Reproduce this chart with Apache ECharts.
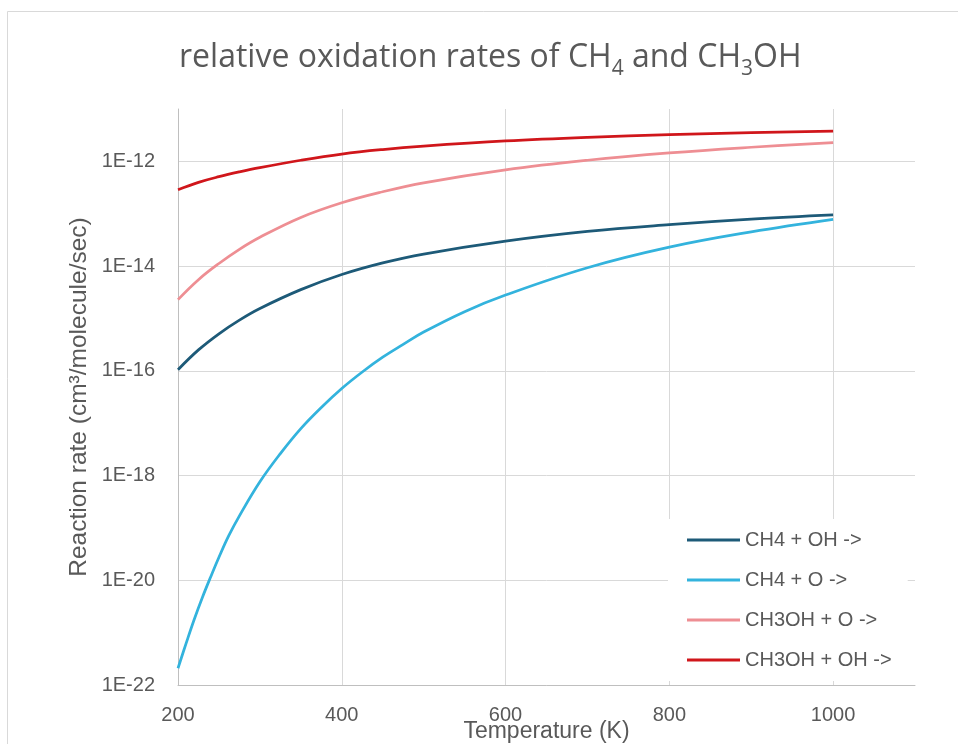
<!DOCTYPE html>
<html>
<head>
<meta charset="utf-8">
<script src="https://cdn.jsdelivr.net/npm/echarts@6/dist/echarts.min.js"></script>
<style>
html,body{margin:0;padding:0;background:#fff;}
#chart{width:958px;height:744px;}
</style>
</head>
<body>
<div id="chart"></div>
<script>
// Temperatures (K)
var temps = [200, 225, 250, 275, 300, 350, 400, 450, 500, 600, 700, 800, 900, 1000];
var tempsCH4O = [200, 210, 220, 230, 240, 250, 262, 275, 300, 325, 350, 375, 400, 425, 450, 475, 500, 550, 600, 700, 800, 900, 1000];

// Reaction rates (cm^3/molecule/sec)
var ch4OH = [1.05e-16, 2.51e-16, 5.1e-16, 9.3e-16, 1.55e-15, 3.55e-15, 6.9e-15, 1.15e-14, 1.70e-14, 3.0e-14, 4.6e-14, 6.2e-14, 7.9e-14, 9.5e-14];
var ch4O = [2.09e-22, 6.3e-22, 1.82e-21, 4.8e-21, 1.17e-20, 2.75e-20, 7.1e-20, 1.70e-19, 7.6e-19, 2.63e-18, 7.9e-18, 2.0e-17, 4.6e-17, 9.5e-17, 1.82e-16, 3.2e-16, 5.5e-16, 1.35e-15, 2.8e-15, 9.3e-15, 2.3e-14, 4.5e-14, 7.8e-14];
var ch3ohO = [2.29e-15, 5.5e-15, 1.12e-14, 2.09e-14, 3.55e-14, 8.5e-14, 1.62e-13, 2.63e-13, 3.9e-13, 6.9e-13, 1.05e-12, 1.45e-12, 1.86e-12, 2.29e-12];
var ch3ohOH = [2.88e-13, 3.98e-13, 5.1e-13, 6.3e-13, 7.6e-13, 1.05e-12, 1.38e-12, 1.68e-12, 1.95e-12, 2.45e-12, 2.88e-12, 3.24e-12, 3.55e-12, 3.8e-12];

var seriesNames = ['CH4 + OH ->', 'CH4 + O ->', 'CH3OH + O ->', 'CH3OH + OH ->'];
var xTicks = [200, 400, 600, 800, 1000];
var yMinExp = -22, yMaxExp = -11;   // axis range 1E-22 .. 1E-11, labels every 2 decades

// ECharts rounds tiny numbers to 0, so the library is fed values in units of 1E-22
var UNIT_EXP = -22;
function toUnits(v) { return v / Math.pow(10, UNIT_EXP); }
function pairs(xs, ys) { return xs.map(function (x, i) { return [x, toUnits(ys[i])]; }); }

var colors = ['#1d5a78', '#33b3dd', '#ee8e93', '#d0161b'];
var dataSets = [pairs(temps, ch4OH), pairs(tempsCH4O, ch4O), pairs(temps, ch3ohO), pairs(temps, ch3ohOH)];

var chart = echarts.init(document.getElementById('chart'), null, {renderer: 'canvas'});
var txt = '#595959';
var font = 'Liberation Sans';
var option = {
  backgroundColor: '#fff',
  animation: false,
  color: colors,
  title: {
    text: '{a|relative oxidation rates of CH}{s|4}{a| and CH}{s|3}{a|OH}',
    left: 174,
    top: 31,
    textStyle: {
      rich: {
        a: {fontFamily: 'Open Sans', fontSize: 32, fontWeight: 'normal', color: txt, lineHeight: 44},
        s: {fontFamily: 'Open Sans', fontSize: 21, fontWeight: 'normal', color: txt, lineHeight: 24, verticalAlign: 'bottom'}
      }
    }
  },
  graphic: [{
    type: 'rect', shape: {x: 7.5, y: 11.5, width: 960, height: 740},
    style: {fill: 'none', stroke: '#d9d9d9', lineWidth: 1}, z: -1
  }],
  grid: {left: 178, right: 43, top: 109, bottom: 59, containLabel: false, outerBoundsMode: 'none'},
  xAxis: {
    type: 'value', min: 200, max: 1100, interval: 200,
    name: 'Temperature (K)', nameLocation: 'middle', nameGap: 35, nameMoveOverlap: false,
    nameTextStyle: {fontFamily: font, fontSize: 23, color: txt},
    axisLine: {show: true, lineStyle: {color: '#bfbfbf', width: 1}},
    axisTick: {show: false},
    axisLabel: {color: txt, fontFamily: font, fontSize: 20, margin: 20, showMaxLabel: false,
      formatter: function (v) { return xTicks.indexOf(v) >= 0 ? String(v) : ''; }},
    splitLine: {show: true, showMaxLine: false, lineStyle: {color: '#d9d9d9', width: 1}}
  },
  yAxis: {
    type: 'log', logBase: 10,
    min: toUnits(Math.pow(10, yMinExp)), max: toUnits(Math.pow(10, yMaxExp)), interval: 2,
    name: 'Reaction rate (cm³/molecule/sec)', nameLocation: 'middle', nameGap: 86, nameMoveOverlap: false,
    nameTextStyle: {fontFamily: font, fontSize: 24.5, color: txt},
    axisLine: {show: true, lineStyle: {color: '#bfbfbf', width: 1}},
    axisTick: {show: false},
    axisLabel: {color: txt, fontFamily: font, fontSize: 20, margin: 23, showMaxLabel: false,
      formatter: function (v) {
        var e = Math.round(Math.log10(v)) + UNIT_EXP;
        if ((e - yMinExp) % 2 !== 0) return '';
        return '1E' + e;
      }},
    splitLine: {show: true, showMaxLine: false, lineStyle: {color: '#d9d9d9', width: 1}}
  },
  legend: {
    orient: 'vertical',
    left: 668, top: 519,
    padding: [11, 16, 11, 19],
    backgroundColor: '#ffffff',
    icon: 'rect',
    itemWidth: 53, itemHeight: 3, itemGap: 20,
    textStyle: {color: txt, fontFamily: font, fontSize: 20, lineHeight: 20},
    data: seriesNames
  },
  series: seriesNames.map(function (n, i) {
    return {
      name: n, type: 'line', data: dataSets[i], smooth: 0.4, symbol: 'none',
      lineStyle: {width: 2.75, color: colors[i]}, z: 2 + i
    };
  })
};
chart.setOption(option);
</script>
</body>
</html>
